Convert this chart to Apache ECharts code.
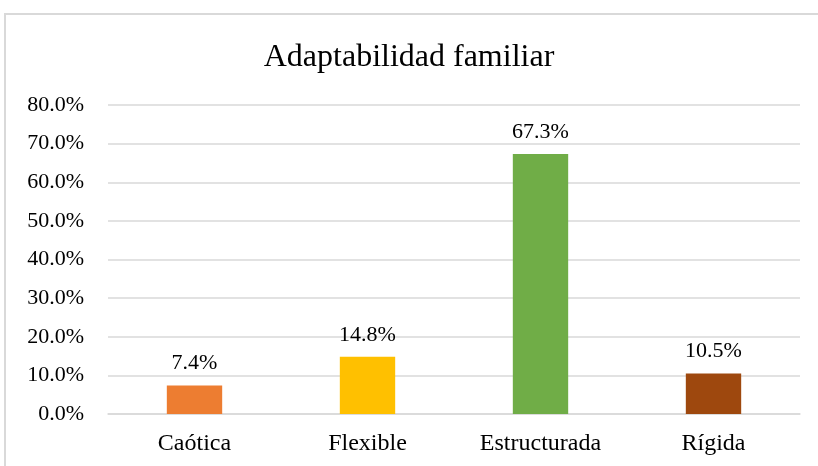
<!DOCTYPE html>
<html>
<head>
<meta charset="utf-8">
<script src="https://cdn.jsdelivr.net/npm/echarts@6/dist/echarts.min.js"></script>
<style>
  html, body { margin: 0; padding: 0; background: #fff; }
  #chart { width: 818px; height: 466px; }
</style>
</head>
<body>
<div id="chart"></div>
<script>
// datos del gráfico
var categorias = ['Caótica', 'Flexible', 'Estructurada', 'Rígida'];
var porcentajes = [7.4, 14.8, 67.3, 10.5];
var colores = ['#ED7D31', '#FFC000', '#70AD47', '#9E480E'];

var fuente = '"Liberation Serif", "Times New Roman", serif';

var myChart = echarts.init(document.getElementById('chart'));

myChart.setOption({
  animation: false,
  title: {
    text: 'Adaptabilidad familiar',
    left: 'center',
    top: 37,
    textStyle: { fontFamily: fuente, fontSize: 32, fontWeight: 'normal', color: '#000' }
  },
  graphic: [{
    type: 'rect',
    shape: { x: 5, y: 14, width: 840, height: 480 },
    style: { fill: 'none', stroke: '#d9d9d9', lineWidth: 2 }
  }],
  grid: { left: 108, right: 18, top: 105, bottom: 52 },
  xAxis: {
    type: 'category',
    data: categorias,
    axisTick: { show: false },
    axisLine: { lineStyle: { color: '#d9d9d9', width: 1.5 } },
    axisLabel: { fontFamily: fuente, fontSize: 24, color: '#000', margin: 18 }
  },
  yAxis: {
    type: 'value',
    min: 0,
    max: 80,
    interval: 10,
    axisLine: { show: false },
    axisTick: { show: false },
    splitLine: { lineStyle: { color: '#d9d9d9', width: 1.5 } },
    axisLabel: {
      fontFamily: fuente, fontSize: 22, color: '#000', margin: 24,
      formatter: function (v) { return v.toFixed(1) + '%'; }
    }
  },
  series: [{
    type: 'bar',
    barWidth: '32%',
    data: porcentajes.map(function (v, i) {
      return { value: v, itemStyle: { color: colores[i] } };
    }),
    label: {
      show: true,
      position: 'top',
      distance: 11,
      fontFamily: fuente,
      fontSize: 22,
      color: '#000',
      formatter: function (p) { return p.value.toFixed(1) + '%'; }
    }
  }]
});
</script>
</body>
</html>
